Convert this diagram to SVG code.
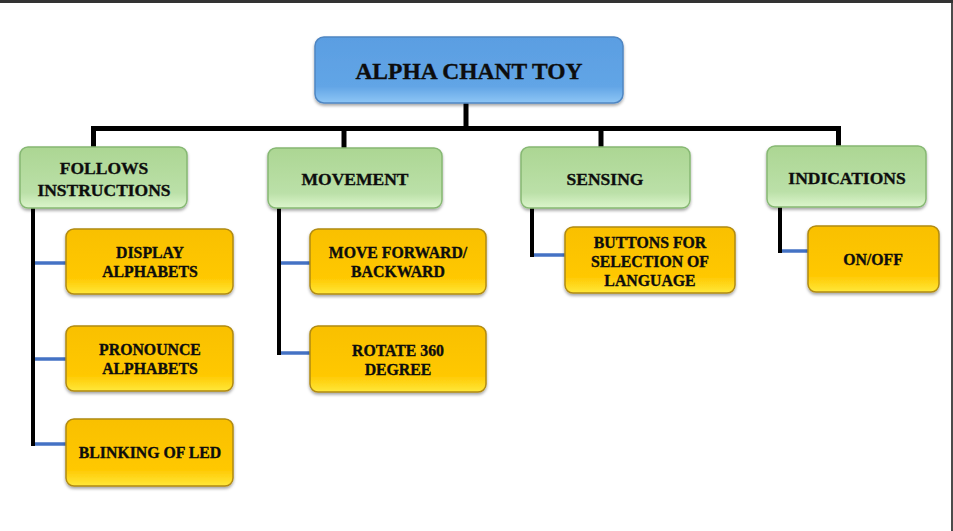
<svg xmlns="http://www.w3.org/2000/svg" width="953" height="531" viewBox="0 0 953 531">
<defs>
<linearGradient id="gBlue" x1="0" y1="0" x2="0" y2="1">
<stop offset="0" stop-color="#5a9ee2"/>
<stop offset="0.75" stop-color="#62a5e6"/>
<stop offset="1" stop-color="#8ec6f5"/>
</linearGradient>
<linearGradient id="gGreen" x1="0" y1="0" x2="0" y2="1">
<stop offset="0" stop-color="#acd693"/>
<stop offset="0.75" stop-color="#bbe0a8"/>
<stop offset="1" stop-color="#dcf5cc"/>
</linearGradient>
<linearGradient id="gYellow" x1="0" y1="0" x2="0" y2="1">
<stop offset="0" stop-color="#f9c000"/>
<stop offset="0.75" stop-color="#ffc800"/>
<stop offset="1" stop-color="#ffe83a"/>
</linearGradient>
<filter id="sh" x="-10%" y="-10%" width="120%" height="130%">
<feDropShadow dx="0" dy="2" stdDeviation="1.5" flood-color="#000" flood-opacity="0.35"/>
</filter>
</defs>
<style>
.t{font-family:"Liberation Serif","Times New Roman",serif;font-weight:bold;fill:#0d0d0d;stroke:#0d0d0d;stroke-width:0.35;text-anchor:middle}
.root{fill:url(#gBlue);stroke:#4f86c2;stroke-width:1.5;filter:url(#sh)}
.l1{fill:url(#gGreen);stroke:#86b873;stroke-width:1.5;filter:url(#sh)}
.l2{fill:url(#gYellow);stroke:#b08a12;stroke-width:1.5;filter:url(#sh)}
.blk{stroke:#000;stroke-width:5;fill:none}
.bv{stroke:#000;stroke-width:4;fill:none}
.bl{stroke:#4472c4;stroke-width:3.5;fill:none}
</style>
<rect x="0" y="0" width="953" height="531" fill="#fff"/>
<rect x="0" y="0" width="953" height="3" fill="#333"/>
<line x1="952" y1="3" x2="952" y2="531" stroke="#111" stroke-width="1.5"/>

<g id="connectors">
<line class="blk" x1="466" y1="102" x2="466" y2="128.5"/>
<polyline class="blk" points="93.5,148 93.5,128.5 838.5,128.5 838.5,146"/>
<line class="blk" x1="344" y1="128.5" x2="344" y2="148"/>
<line class="blk" x1="601" y1="128.5" x2="601" y2="147"/>
<line class="bv" x1="33" y1="208" x2="33" y2="446"/>
<line class="bl" x1="35" y1="263" x2="66" y2="263"/>
<line class="bl" x1="35" y1="359" x2="66" y2="359"/>
<line class="bl" x1="35" y1="444" x2="66" y2="444"/>
<line class="bv" x1="279" y1="208" x2="279" y2="355"/>
<line class="bl" x1="281" y1="263" x2="310" y2="263"/>
<line class="bl" x1="281" y1="353" x2="310" y2="353"/>
<line class="bv" x1="532" y1="208" x2="532" y2="257"/>
<line class="bl" x1="534" y1="255" x2="565" y2="255"/>
<line class="bv" x1="780" y1="207" x2="780" y2="253"/>
<line class="bl" x1="782" y1="251" x2="808" y2="251"/>
</g>

<g id="root">
<rect class="root" x="315" y="37" width="308" height="66" rx="9"/>
<text class="t" x="469" y="79" font-size="23.5">ALPHA CHANT TOY</text>
</g>

<g id="follows">
<rect class="l1" x="20" y="147" width="167" height="61" rx="8"/>
<text class="t" x="104" y="174" font-size="17.5">FOLLOWS</text>
<text class="t" x="104" y="196" font-size="17.5">INSTRUCTIONS</text>
</g>
<g id="movement">
<rect class="l1" x="268" y="148" width="174" height="60" rx="8"/>
<text class="t" x="355" y="185" font-size="17.5">MOVEMENT</text>
</g>
<g id="sensing">
<rect class="l1" x="521" y="147" width="169" height="61" rx="8"/>
<text class="t" x="605" y="185" font-size="17.5">SENSING</text>
</g>
<g id="indications">
<rect class="l1" x="767" y="146" width="159" height="61" rx="8"/>
<text class="t" x="847" y="184" font-size="17.5">INDICATIONS</text>
</g>

<g id="display">
<rect class="l2" x="66" y="229" width="167" height="65" rx="8"/>
<text class="t" x="150" y="258" font-size="15.8">DISPLAY</text>
<text class="t" x="150" y="277" font-size="15.8">ALPHABETS</text>
</g>
<g id="pronounce">
<rect class="l2" x="66" y="326" width="167" height="65" rx="8"/>
<text class="t" x="150" y="355" font-size="15.8">PRONOUNCE</text>
<text class="t" x="150" y="374" font-size="15.8">ALPHABETS</text>
</g>
<g id="blinking">
<rect class="l2" x="66" y="419" width="167" height="67" rx="8"/>
<text class="t" x="150" y="458" font-size="15.8">BLINKING OF LED</text>
</g>
<g id="moveforward">
<rect class="l2" x="310" y="229" width="176" height="65" rx="8"/>
<text class="t" x="398" y="258" font-size="15.8">MOVE FORWARD/</text>
<text class="t" x="398" y="277" font-size="15.8">BACKWARD</text>
</g>
<g id="rotate">
<rect class="l2" x="310" y="326" width="176" height="66" rx="8"/>
<text class="t" x="398" y="356" font-size="15.8">ROTATE 360</text>
<text class="t" x="398" y="375" font-size="15.8">DEGREE</text>
</g>
<g id="buttons">
<rect class="l2" x="565" y="227" width="170" height="66" rx="8"/>
<text class="t" x="650" y="248" font-size="15.8">BUTTONS FOR</text>
<text class="t" x="650" y="267" font-size="15.8">SELECTION OF</text>
<text class="t" x="650" y="286" font-size="15.8">LANGUAGE</text>
</g>
<g id="onoff">
<rect class="l2" x="808" y="226" width="131" height="66" rx="8"/>
<text class="t" x="873" y="265" font-size="15.8">ON/OFF</text>
</g>
</svg>
